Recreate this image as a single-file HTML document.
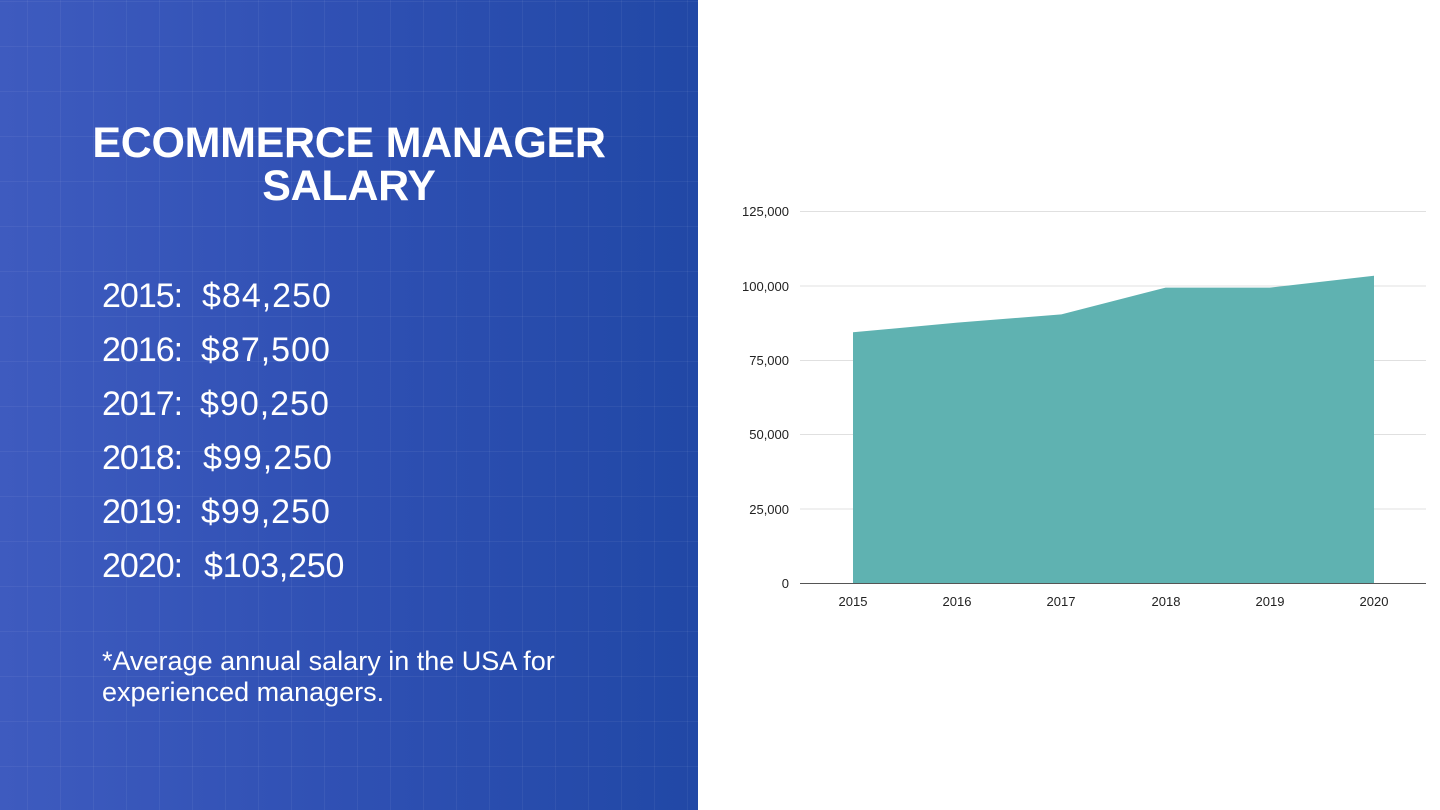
<!DOCTYPE html>
<html><head><meta charset="utf-8"><style>
body{margin:0;width:1440px;height:810px;overflow:hidden;background:#fff;font-family:"Liberation Sans",sans-serif;}
#left{position:absolute;left:0;top:0;width:698px;height:810px;background:linear-gradient(90deg,#3e5bbf 0%,#2f50b3 50%,#2148a6 100%);overflow:hidden}
#grid{position:absolute;inset:0;background-image:linear-gradient(rgba(255,255,255,0.05) 1px,transparent 1px),linear-gradient(90deg,rgba(255,255,255,0.05) 1px,transparent 1px);background-size:33px 45px;background-position:27px 1px}
h1{position:absolute;left:0;width:698px;top:122px;margin:0;text-align:center;color:#fff;font-size:43px;line-height:43px;font-weight:bold;letter-spacing:-0.3px}
.y,.a{position:absolute;color:#fff;font-size:34px;white-space:pre}
.y{left:102px;letter-spacing:-1px}
.a{letter-spacing:1px}
.note{position:absolute;left:102px;top:646px;color:#fff;font-size:27px;line-height:31px;letter-spacing:0px}
</style></head><body>
<div id="left"><div id="grid"></div>
<h1>ECOMMERCE MANAGER<br>SALARY</h1>
<div class="y" style="top:277px">2015:</div><div class="a" style="top:277px;left:202px">$84,250</div>
<div class="y" style="top:331px">2016:</div><div class="a" style="top:331px;left:201px">$87,500</div>
<div class="y" style="top:385px">2017:</div><div class="a" style="top:385px;left:200px">$90,250</div>
<div class="y" style="top:439px">2018:</div><div class="a" style="top:439px;left:203px">$99,250</div>
<div class="y" style="top:493px">2019:</div><div class="a" style="top:493px;left:201px">$99,250</div>
<div class="y" style="top:547px">2020:</div><div class="a" style="top:547px;left:204px;letter-spacing:-0.2px">$103,250</div>
<div class="note">*Average annual salary in the USA for<br>experienced managers.</div>
</div>
<svg style="position:absolute;left:0;top:0" width="1440" height="810">
<g stroke="#e0e0e0" stroke-width="1">
<line x1="800" x2="1426" y1="211.5" y2="211.5"/><line x1="800" x2="1426" y1="286" y2="286"/>
<line x1="800" x2="1426" y1="360.5" y2="360.5"/><line x1="800" x2="1426" y1="434.5" y2="434.5"/>
<line x1="800" x2="1426" y1="509" y2="509"/></g>
<polygon fill="#5fb2b1" points="853,583 853,332.3 957.2,322.6 1061.4,314.4 1165.6,287.6 1269.8,287.6 1374,275.7 1374,583"/>
<line x1="800" x2="1426" y1="583.5" y2="583.5" stroke="#555" stroke-width="1"/>
<g font-size="13" fill="#222" text-anchor="end">
<text x="789" y="216">125,000</text><text x="789" y="291">100,000</text><text x="789" y="365">75,000</text>
<text x="789" y="439">50,000</text><text x="789" y="514">25,000</text><text x="789" y="588">0</text></g>
<g font-size="13" fill="#222" text-anchor="middle">
<text x="853" y="606">2015</text><text x="957" y="606">2016</text><text x="1061" y="606">2017</text>
<text x="1166" y="606">2018</text><text x="1270" y="606">2019</text><text x="1374" y="606">2020</text></g>
</svg>
</body></html>
